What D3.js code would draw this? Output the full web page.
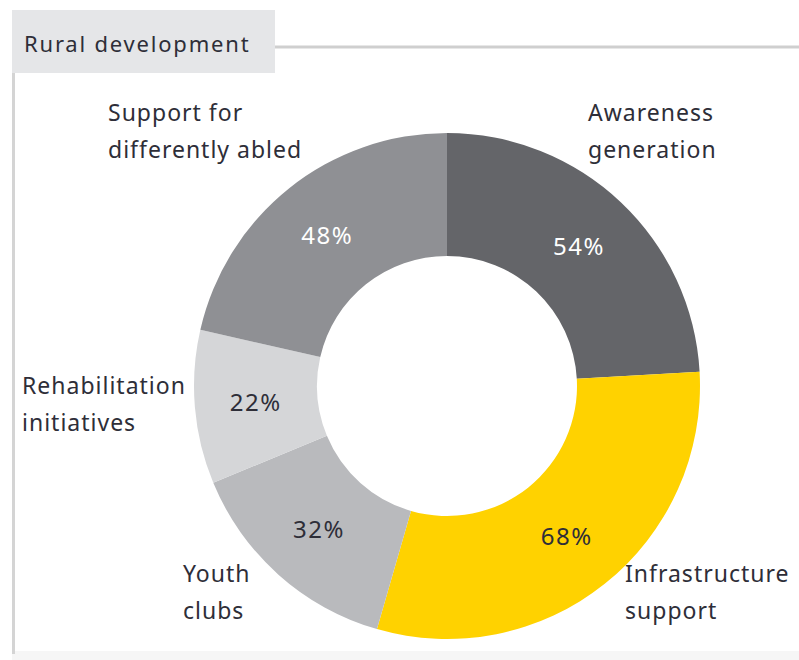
<!DOCTYPE html>
<html>
<head>
<meta charset="utf-8">
<script src="https://cdn.jsdelivr.net/npm/d3@7"></script>
<style>
	body { margin: 0; background: #fff; }
	text { font-family: "Noto Sans", "DejaVu Sans", sans-serif; }
</style>
</head>
<body>
<div class="container"></div>
<script>

var categories = ["Awareness generation", "Infrastructure support", "Youth clubs", "Rehabilitation initiatives", "Support for differently abled"];
var values = [54, 68, 32, 22, 48];
var sliceColors = ["#646569", "#ffd200", "#b9babd", "#d5d6d8", "#8f9094"];
var pctColors = ["#ffffff", "#2e2e38", "#2e2e38", "#2e2e38", "#ffffff"];
var title = "Rural development";

// where the two-line outer labels sit
var labelLayout = [
	{x: 588, y: 121, lines: ["Awareness", "generation"]},
	{x: 625, y: 582, lines: ["Infrastructure", "support"]},
	{x: 183, y: 582, lines: ["Youth", "clubs"]},
	{x: 22, y: 394, lines: ["Rehabilitation", "initiatives"]},
	{x: 108, y: 121, lines: ["Support for", "differently abled"]}
];

var W = 799, H = 660;
var cx = 447, cy = 386;

function makeStage(w, h) {
	var stage = d3.select(".container")
		.append("svg")
		.attr("width", w)
		.attr("height", h);
	return stage;
}

var svg = makeStage(W, H);

// frame
svg.append("rect")
	.attr("x", 12).attr("y", 651).attr("width", W - 12).attr("height", 9)
	.style("fill", "#f6f6f6");
svg.append("line")
	.attr("x1", 13.5).attr("x2", 13.5).attr("y1", 72).attr("y2", 654)
	.style("stroke", "#d4d4d4").style("stroke-width", 3);
svg.append("line")
	.attr("x1", 275).attr("x2", W).attr("y1", 47).attr("y2", 47)
	.style("stroke", "#cfcfcf").style("stroke-width", 3);
svg.append("rect")
	.attr("x", 12).attr("y", 10).attr("width", 263).attr("height", 63)
	.style("fill", "#e5e6e8");
svg.append("text")
	.attr("x", 24).attr("y", 52)
	.style("font-size", "22px")
	.style("letter-spacing", "1.8px")
	.style("fill", "#2e2e38")
	.text(title);

var pie = d3.pie().sort(null).value(function(d) { return d; });
var arcs = pie(values);

var arc = d3.arc().innerRadius(130).outerRadius(253);
var labelArc = d3.arc().innerRadius(192).outerRadius(192);

var g = svg.append("g").attr("transform", "translate(" + cx + "," + cy + ")");

g.selectAll("path.slice")
	.data(arcs)
	.enter()
	.append("path")
	.attr("class", "slice")
	.attr("d", arc)
	.style("fill", function(d, i) { return sliceColors[i]; });

g.selectAll("text.pct")
	.data(arcs)
	.enter()
	.append("text")
	.attr("class", "pct")
	.attr("transform", function(d) { return "translate(" + labelArc.centroid(d) + ")"; })
	.attr("text-anchor", "middle")
	.attr("dy", "0.35em")
	.style("font-size", "24px")
	.style("letter-spacing", "1.5px")
	.style("fill", function(d, i) { return pctColors[i]; })
	.text(function(d) { return d.data + "%"; });

labelLayout.forEach(function(lab) {
	var t = svg.append("text")
		.attr("x", lab.x)
		.attr("y", lab.y)
		.style("font-size", "23px")
		.style("letter-spacing", "1px")
		.style("fill", "#2e2e38");
	lab.lines.forEach(function(line, k) {
		t.append("tspan")
			.attr("x", lab.x)
			.attr("dy", k == 0 ? 0 : 37)
			.text(line);
	});
});

</script>
</body>
</html>
